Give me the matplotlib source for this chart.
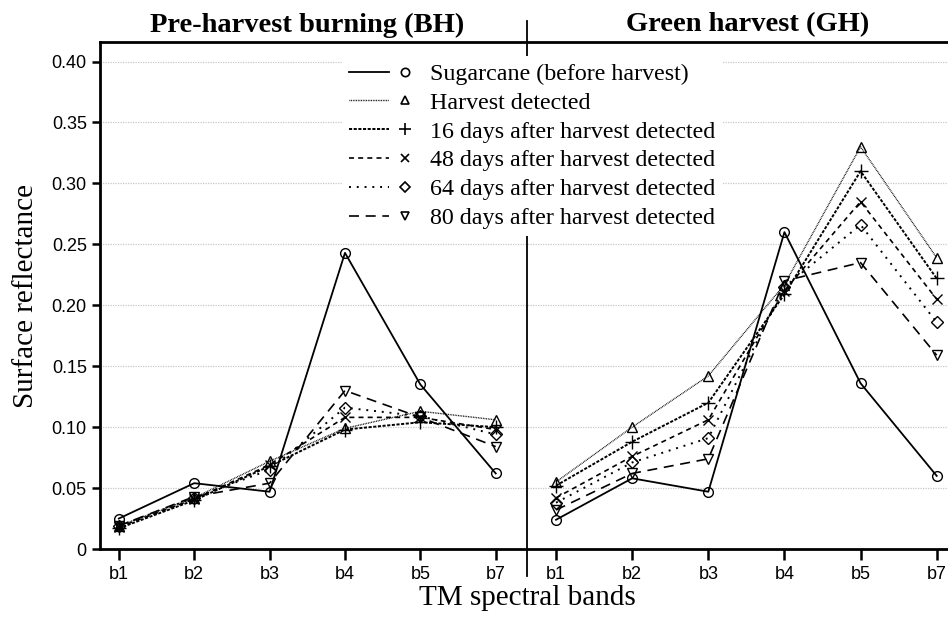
import matplotlib.pyplot as plt
import numpy as np
from matplotlib.lines import Line2D
from matplotlib.legend_handler import HandlerBase

bands = ["b1", "b2", "b3", "b4", "b5", "b7"]

labels = ["Sugarcane (before harvest)",
          "Harvest detected",
          "16 days after harvest detected",
          "48 days after harvest detected",
          "64 days after harvest detected",
          "80 days after harvest detected"]

# pre-harvest burning (BH)
bh_cane = [0.025, 0.054, 0.047, 0.243, 0.135, 0.062]
bh_h0 = [0.019, 0.042, 0.072, 0.099, 0.113, 0.106]
bh_h16 = [0.017, 0.040, 0.068, 0.098, 0.104, 0.100]
bh_h48 = [0.018, 0.041, 0.069, 0.108, 0.108, 0.098]
bh_h64 = [0.019, 0.042, 0.065, 0.116, 0.109, 0.094]
bh_h80 = [0.019, 0.043, 0.054, 0.130, 0.108, 0.084]

# green harvest (GH)
gh_cane = [0.024, 0.058, 0.047, 0.260, 0.136, 0.060]
gh_h0 = [0.055, 0.100, 0.142, 0.217, 0.330, 0.239]
gh_h16 = [0.052, 0.088, 0.120, 0.209, 0.310, 0.222]
gh_h48 = [0.042, 0.076, 0.106, 0.212, 0.285, 0.205]
gh_h64 = [0.038, 0.071, 0.091, 0.215, 0.266, 0.186]
gh_h80 = [0.032, 0.062, 0.074, 0.220, 0.235, 0.159]

bh_series = [bh_cane, bh_h0, bh_h16, bh_h48, bh_h64, bh_h80]
gh_series = [gh_cane, gh_h0, gh_h16, gh_h48, gh_h64, gh_h80]

styles = [
    dict(ls="-", lw=1.3, marker="o"),
    dict(ls=(0, (0.6, 0.6)), lw=1.0, marker="^"),
    dict(ls=(0, (1.6, 0.8)), lw=1.4, marker="+"),
    dict(ls=(0, (3, 2.5)), lw=1.2, marker="x"),
    dict(ls=(0, (1, 3)), lw=1.4, marker="D"),
    dict(ls=(0, (6, 4)), lw=1.2, marker="v"),
]
msizes = {"o": 7, "^": 7, "+": 10, "x": 7, "D": 6, "v": 7}


class LineThenMarker(HandlerBase):
    """legend key: a short line sample followed by the marker on its own"""

    def create_artists(self, legend, orig_handle, xdescent, ydescent,
                       width, height, fontsize, trans):
        y = height / 2 - ydescent
        x0 = -xdescent
        ln = Line2D([x0, x0 + 0.6 * width], [y, y])
        ln.update_from(orig_handle)
        ln.set_marker("None")
        mk = Line2D([x0 + 0.85 * width], [y])
        mk.update_from(orig_handle)
        mk.set_linestyle("None")
        mk.set_markersize(orig_handle.get_markersize() - 1)
        for a in (ln, mk):
            a.set_transform(trans)
        return [ln, mk]


plt.rcParams["font.family"] = "Liberation Sans"
serif = "Liberation Serif"

fig = plt.figure(figsize=(9.48, 6.19), dpi=100)
ax = fig.add_axes([100 / 948, 70 / 619, 848 / 948, 507 / 619])

bh_x = np.arange(6)
gh_x = np.linspace(5.8, 10.85, 6)
sep = 5.42

handles = []
for bh, gh, st in zip(bh_series, gh_series, styles):
    m = st["marker"]
    kw = dict(color="black", ls=st["ls"], lw=st["lw"], marker=m,
              ms=msizes[m], mfc="none", mec="black", mew=1.0, zorder=3)
    ax.plot(bh_x, bh, **kw)
    ax.plot(gh_x, gh, **kw)
    handles.append(Line2D([], [], color="black", ls=st["ls"], lw=st["lw"],
                          marker=m, ms=msizes[m], mfc="none", mec="black",
                          mew=1.2))

ax.set_xlim(-0.25, 11.0)
ax.set_ylim(0, 0.4 * 1.04)
ax.set_yticks(np.arange(0, 0.41, 0.05))
ax.set_yticklabels(["0"] + ["%.2f" % v for v in np.arange(0.05, 0.41, 0.05)])
ax.set_xticks(np.concatenate([bh_x, gh_x]))
ax.set_xticklabels(bands + bands)
ax.tick_params(axis="both", labelsize=13, width=1.8, length=6, direction="out")
ax.tick_params(axis="x", length=8, pad=4)

ax.yaxis.grid(True, color="#c8c8c8", ls=(0, (1, 1)), lw=0.9)
ax.set_axisbelow(True)

for s in ["left", "bottom", "top"]:
    ax.spines[s].set_linewidth(2.0)
ax.spines["right"].set_visible(False)

# divider between the two harvest systems
ax.plot([sep, sep], [-0.022, 0.433], color="black", lw=1.3, clip_on=False)

ax.text(2.5, 0.4246, "Pre-harvest burning (BH)", ha="center", va="baseline",
        fontsize=20.5, fontweight="bold", family=serif)
ax.text(8.34, 0.4246, "Green harvest (GH)", ha="center", va="baseline",
        fontsize=20.5, fontweight="bold", family=serif)

ax.set_ylabel("Surface reflectance", family=serif, fontsize=21, labelpad=9)
fig.text(527 / 948, 1 - 605 / 619, "TM spectral bands", family=serif,
         fontsize=21, ha="center", va="baseline")

leg = ax.legend(handles, labels, handler_map={Line2D: LineThenMarker()},
                loc="upper left", bbox_to_anchor=(330 / 948, 1 - 44 / 619),
                bbox_transform=fig.transFigure, frameon=True, fancybox=False,
                edgecolor="none", facecolor="white", framealpha=1.0,
                prop={"family": serif, "size": 17.3}, handlelength=2.75,
                handletextpad=0.62, labelspacing=0.29, borderpad=0.3)

fig.savefig("out.png", dpi=100)
